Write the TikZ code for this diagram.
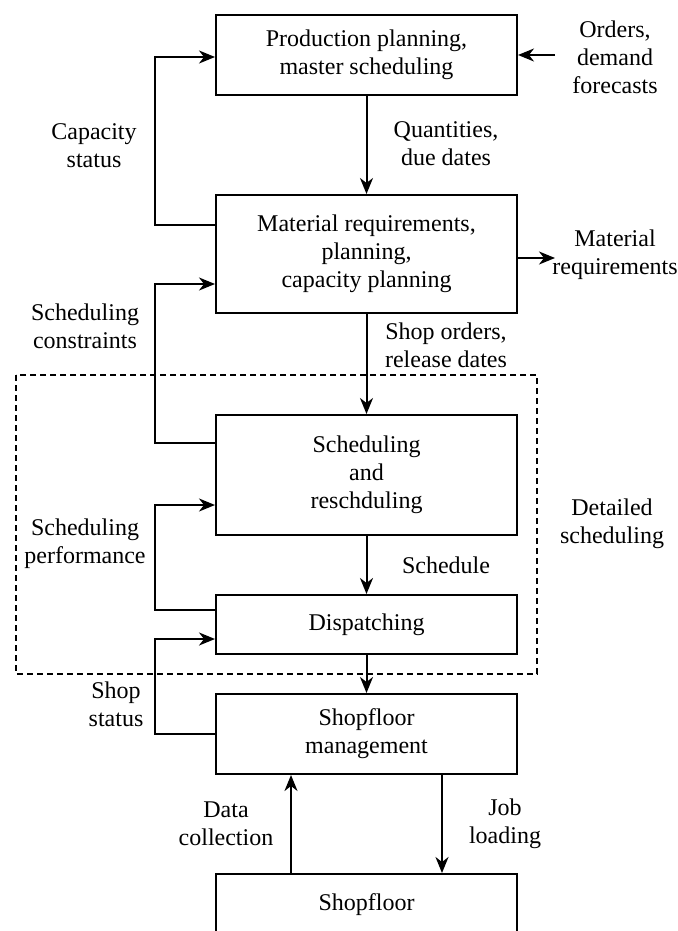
\documentclass[tikz,border=0pt]{standalone}
\usepackage{fontspec}
\setmainfont{Liberation Serif}
\newfontfamily\diagfont{Liberation Serif}
\usetikzlibrary{arrows.meta,positioning,calc}

\begin{document}
\begin{tikzpicture}[x=1pt,y=-1pt,>={Stealth[length=16pt,width=13pt,inset=5pt]},
   line width=2pt,font=\diagfont\fontsize{24}{28}\selectfont,
   box/.style={draw,minimum width=301pt,align=center,inner sep=0pt},
   lab/.style={align=center,inner sep=1pt}]
  \useasboundingbox (0,0) rectangle (677,931);
  % main chain
  \node[box,minimum height=80pt] (pp) at (366.5,55) {Production planning,\\master scheduling};
  \node[box,minimum height=118pt] (mrp) at (366.5,254) {Material requirements,\\planning,\\capacity planning};
  \node[box,minimum height=120pt] (sched) at (366.5,475) {Scheduling\\and\\reschduling};
  \node[box,minimum height=59pt] (disp) at (366.5,624.5) {Dispatching};
  \node[box,minimum height=80pt] (sfm) at (366.5,734) {Shopfloor\\management};
  \node[box,minimum height=62pt] (sf) at (366.5,905) {Shopfloor};
  % detailed scheduling frame
  \draw[line width=1.5pt,dash pattern=on 6pt off 4pt] (16,375) rectangle (537,674);
  % labels
  \node[lab] (orders) at (615,57) {Orders,\\demand\\forecasts};
  \node[lab] (capst) at (94,145.5) {Capacity\\status};
  \node[lab] (qty) at (446,143.5) {Quantities,\\due dates};
  \node[lab] (matreq) at (615,255) {Material\\requirements};
  \node[lab] (cons) at (85,326) {Scheduling\\constraints};
  \node[lab] (shopord) at (446,345) {Shop orders,\\release dates};
  \node[lab] (detail) at (612,524) {Detailed\\scheduling};
  \node[lab] (perf) at (85,543.5) {Scheduling\\performance};
  \node[lab] (schedlab) at (446,565) {Schedule};
  \node[lab] (shopst) at (116,704) {Shop\\status};
  \node[lab] (datacol) at (226,824) {Data\\collection};
  \node[lab] (jobload) at (505,824) {Job\\loading};
  % free ends
  \coordinate (ordin) at (555,55);
  \coordinate (matout) at (555,258);
  % connectors
  \draw[->] (ordin) -- (pp.east);
  \draw[->] (pp) -- (mrp);
  \draw[->] (mrp) -- (sched);
  \draw[->] (sched) -- (disp);
  \draw[->] (disp) -- (sfm);
  \draw[->] ([yshift=-4pt]mrp.east) -- (matout);
  \draw[->] ([yshift=29pt]mrp.west) -- ++(-60,0) |- ([yshift=-2pt]pp.west);
  \draw[->] ([yshift=32pt]sched.west) -- ++(-60,0) |- ([yshift=-30pt]mrp.west);
  \draw[->] ([yshift=14.5pt]disp.west) -- ++(-60,0) |- ([yshift=-30pt]sched.west);
  \draw[->] (sfm.west) -- ++(-60,0) |- ([yshift=-14.5pt]disp.west);
  \draw[->] ([xshift=-75.5pt]sf.north) -- ([xshift=-75.5pt]sfm.south);
  \draw[->] ([xshift=75.5pt]sfm.south) -- ([xshift=75.5pt]sf.north);
\end{tikzpicture}
\end{document}
